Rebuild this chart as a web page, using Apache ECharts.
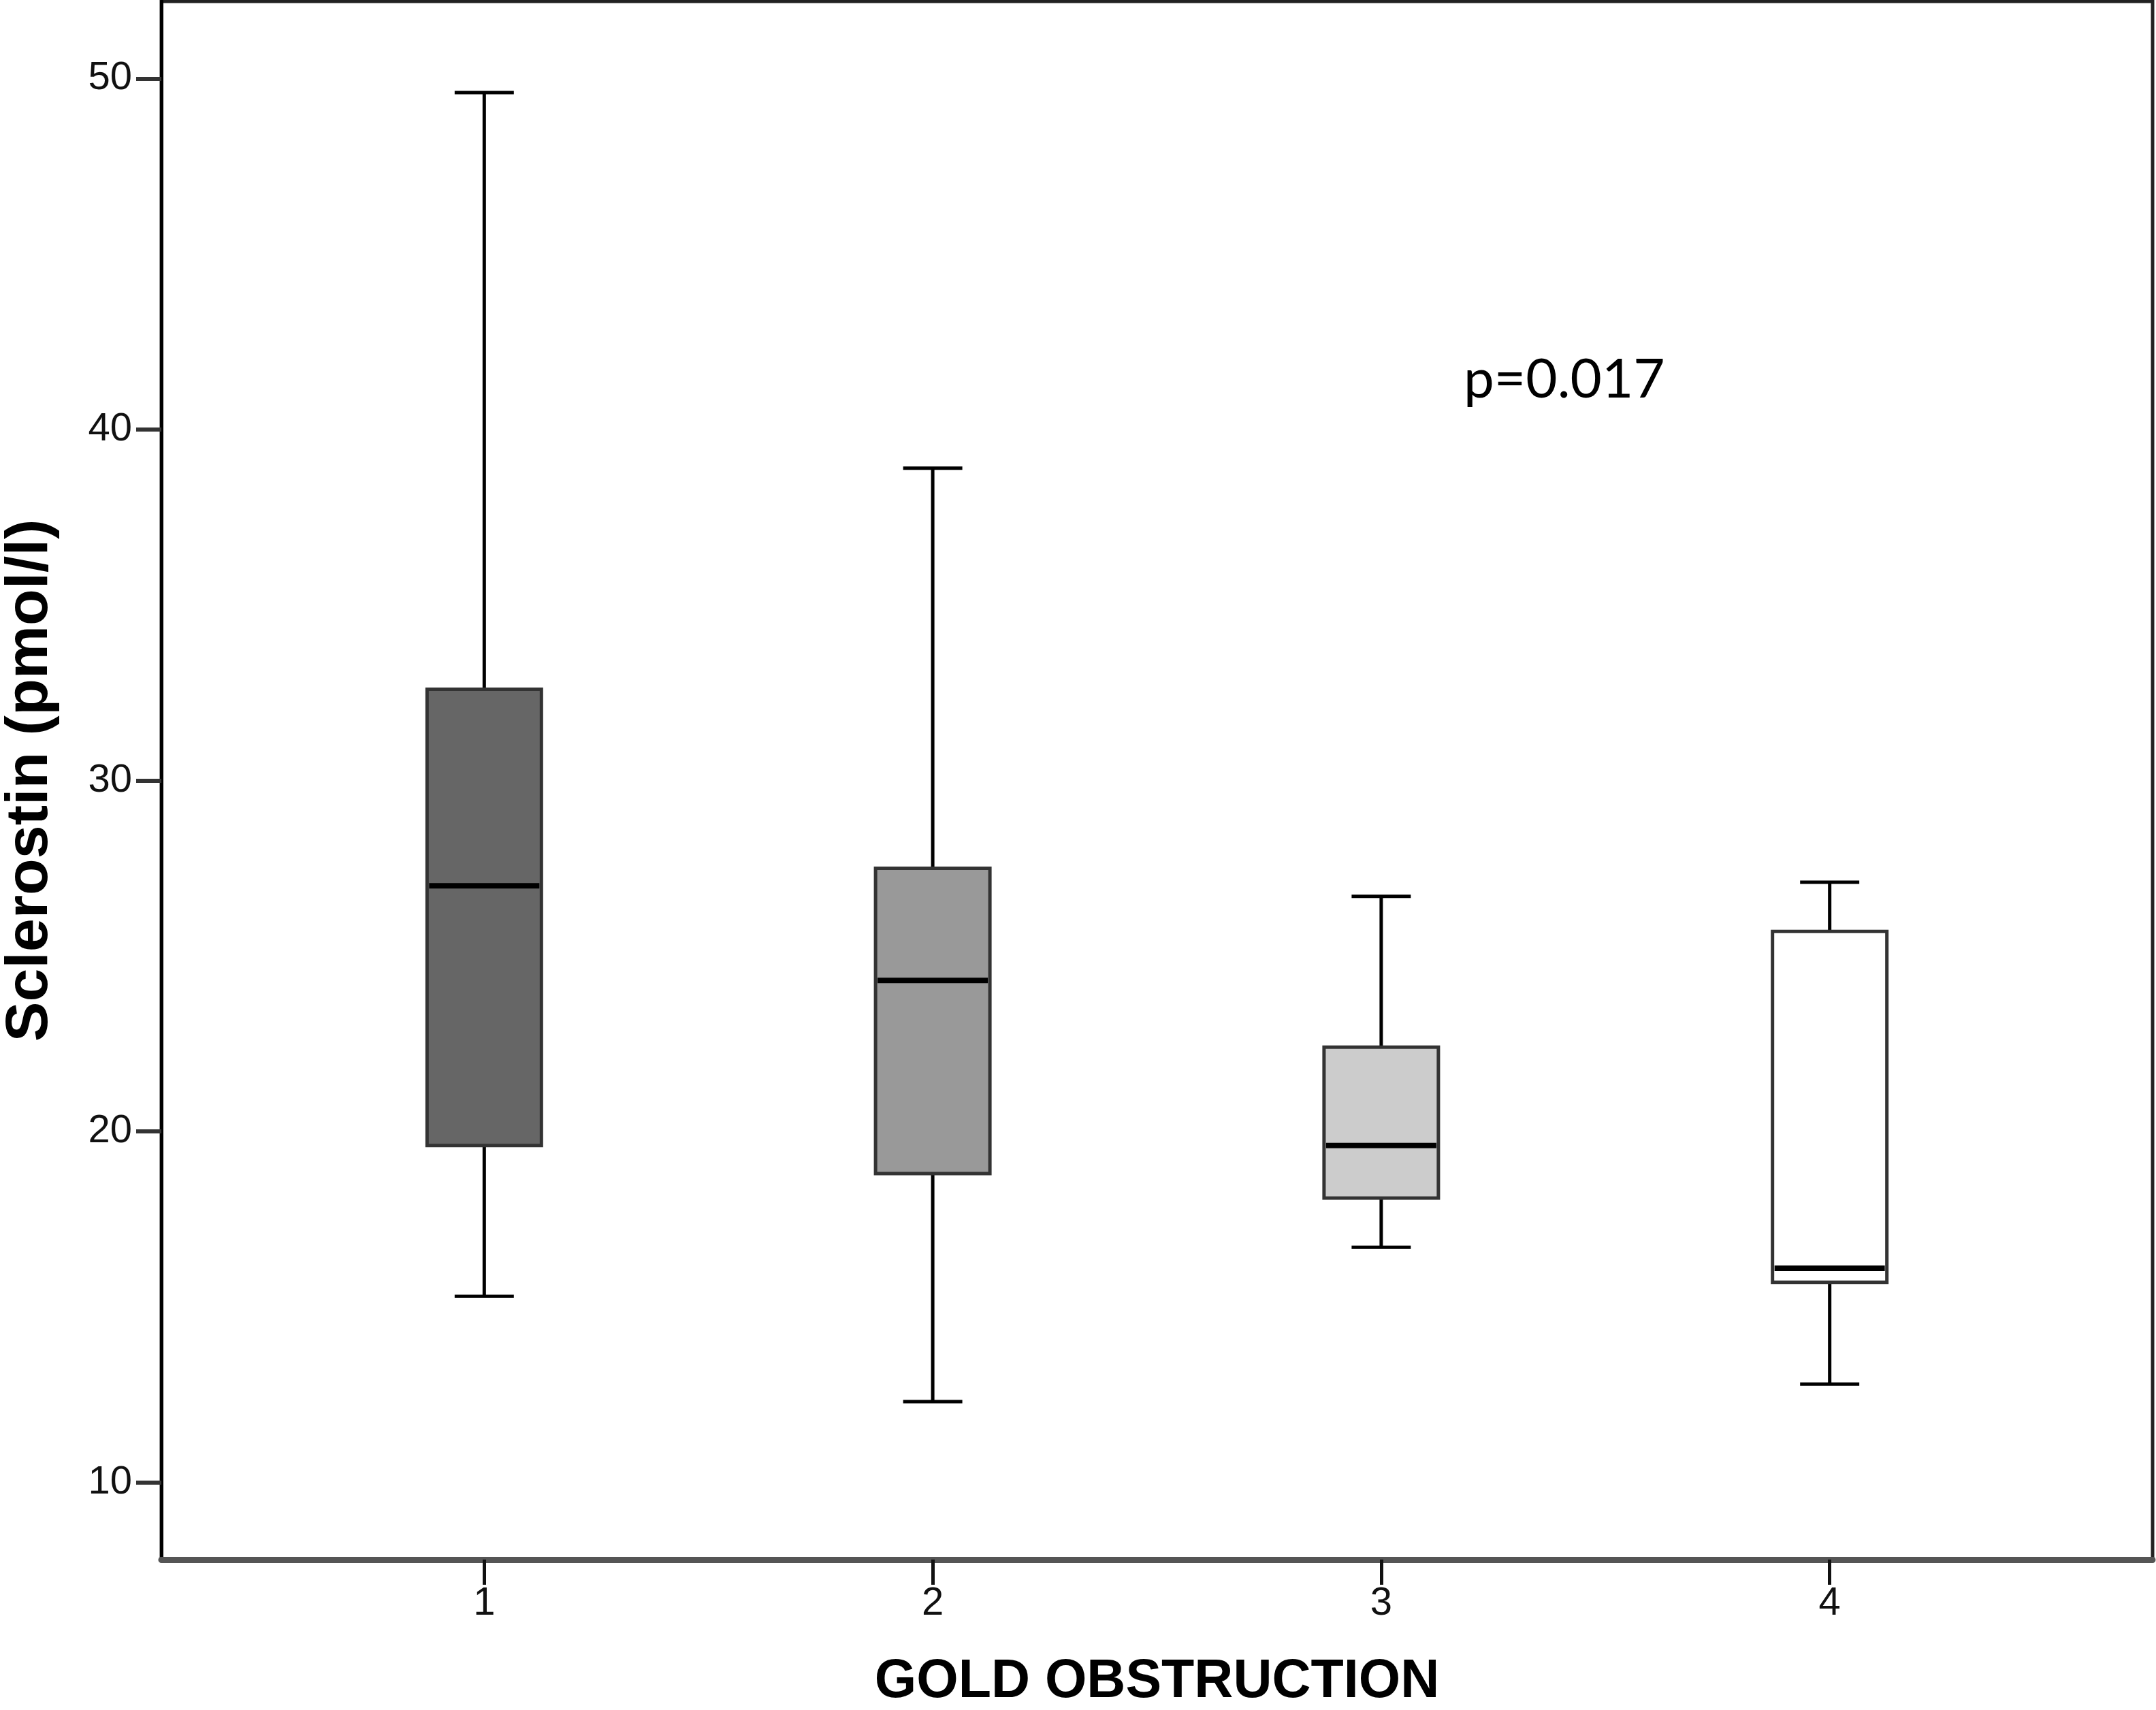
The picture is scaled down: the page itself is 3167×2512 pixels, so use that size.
<!DOCTYPE html>
<html>
<head>
<meta charset="utf-8">
<script src="https://cdn.jsdelivr.net/npm/echarts@6/dist/echarts.min.js"></script>
<style>
html,body{margin:0;padding:0;background:#fff;}
#chart{width:3167px;height:2512px;}
</style>
</head>
<body>
<div id="chart"></div>
<script>
// ---- data ----
const categories = [1, 2, 3, 4];
const whiskerLow  = [15.3, 12.3, 16.7, 12.8];
const q1Values    = [19.6, 18.8, 18.1, 15.7];
const medians     = [27.0, 24.3, 19.6, 16.1];
const q3Values    = [32.6, 27.5, 22.4, 25.7];
const whiskerHigh = [49.6, 38.9, 26.7, 27.1];
const yTicks = [10, 20, 30, 40, 50];
const xTicks = [1, 2, 3, 4];
const pValueText = 'p=0.017';

// ---- style ----
const fills = ['#666666', '#999999', '#cccccc', '#ffffff'];
const BOX_W = 0.255;
const CAP_W = 0.132;

const boxData = categories.map((c, i) => [c, whiskerLow[i], q1Values[i], medians[i], q3Values[i], whiskerHigh[i]]);

function renderBox(params, api) {
  const x = api.value(0);
  const pLow = api.coord([x, api.value(1)]);
  const pQ1 = api.coord([x, api.value(2)]);
  const pMed = api.coord([x, api.value(3)]);
  const pQ3 = api.coord([x, api.value(4)]);
  const pHigh = api.coord([x, api.value(5)]);
  const bw = api.size([BOX_W, 0])[0];
  const cw = api.size([CAP_W, 0])[0];
  const cx = pLow[0];
  const lineStyle = {stroke: '#000', lineWidth: 5};
  return {
    type: 'group',
    children: [
      {type: 'line', shape: {x1: cx, y1: pHigh[1], x2: cx, y2: pQ3[1]}, style: lineStyle},
      {type: 'line', shape: {x1: cx, y1: pQ1[1], x2: cx, y2: pLow[1]}, style: lineStyle},
      {type: 'line', shape: {x1: cx - cw / 2, y1: pHigh[1], x2: cx + cw / 2, y2: pHigh[1]}, style: lineStyle},
      {type: 'line', shape: {x1: cx - cw / 2, y1: pLow[1], x2: cx + cw / 2, y2: pLow[1]}, style: lineStyle},
      {type: 'rect', shape: {x: cx - bw / 2, y: pQ3[1], width: bw, height: pQ1[1] - pQ3[1]},
        style: {fill: fills[params.dataIndex], stroke: '#333', lineWidth: 5}},
      {type: 'line', shape: {x1: cx - bw / 2 + 3, y1: pMed[1], x2: cx + bw / 2 - 3, y2: pMed[1]},
        style: {stroke: '#000', lineWidth: 8}}
    ]
  };
}

const chart = echarts.init(document.getElementById('chart'), null, {renderer: 'canvas'});
chart.setOption({
  animation: false,
  backgroundColor: '#fff',
  grid: {left: 237, right: 5, top: 2, bottom: 221, show: true, borderColor: '#222', borderWidth: 5,
    outerBoundsMode: 'none', containLabel: false},
  xAxis: {
    type: 'value', min: 0.28, max: 4.72,
    name: 'GOLD OBSTRUCTION', nameLocation: 'middle', nameGap: 141,
    nameTextStyle: {fontFamily: 'Liberation Sans', fontWeight: 'bold', fontSize: 79, color: '#000'},
    axisLine: {show: true, lineStyle: {color: '#555', width: 9}},
    axisTick: {show: true, customValues: xTicks, length: 37, lineStyle: {color: '#111', width: 5}},
    axisLabel: {customValues: xTicks, margin: 36, fontFamily: 'Liberation Sans', fontSize: 58, color: '#111'},
    splitLine: {show: false}
  },
  yAxis: {
    type: 'value', min: 7.8, max: 52.2,
    name: 'Sclerostin (pmol/l)', nameLocation: 'middle', nameGap: 148, nameRotate: 90,
    nameTextStyle: {fontFamily: 'Liberation Sans', fontWeight: 'bold', fontSize: 88, color: '#000'},
    axisLine: {show: true, lineStyle: {color: '#000', width: 5}},
    axisTick: {show: true, customValues: yTicks, length: 37, lineStyle: {color: '#333', width: 6}},
    axisLabel: {customValues: yTicks, margin: 43, fontFamily: 'Liberation Sans', fontSize: 58, color: '#111'},
    splitLine: {show: false}
  },
  graphic: [{
    type: 'text', left: 2150, top: 518,
    style: {text: pValueText, font: '80px Lato', fill: '#000'}
  }],
  series: [{
    type: 'custom',
    renderItem: renderBox,
    encode: {x: 0, y: [1, 2, 3, 4, 5]},
    data: boxData,
    clip: false
  }]
});
</script>
</body>
</html>
